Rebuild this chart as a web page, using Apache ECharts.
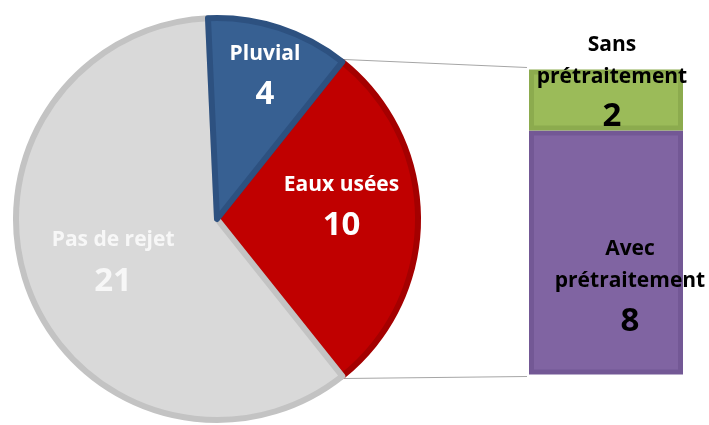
<!DOCTYPE html>
<html>
<head>
<meta charset="utf-8">
<script src="https://cdn.jsdelivr.net/npm/echarts@6/dist/echarts.min.js"></script>
<style>
  html, body { margin: 0; padding: 0; background: #ffffff; }
  #chart { width: 709px; height: 425px; }
</style>
</head>
<body>
<div id="chart"></div>
<script>
// Répartition des rejets (camembert) et détail des eaux usées (barre empilée)
const pieNames = ['Eaux usées', 'Pas de rejet', 'Pluvial'];
const pieValues = [10, 21, 4];
const barNames = ['Sans prétraitement', 'Avec prétraitement'];
const barValues = [2, 8];

const FONT = '"Open Sans", Lato, sans-serif';
const pieCenter = [217, 219];
const pieRadius = 201;
const pieBorder = 6;

const pieStyle = {
  'Eaux usées': { color: '#c00000', border: '#a40000', offset: [21, -9] },
  'Pas de rejet': { color: '#d9d9d9', border: '#c3c3c3', offset: [-7, 10], text: '#f7f7f7' },
  'Pluvial': { color: '#376092', border: '#2d5180', offset: [16, -42] }
};
const barStyle = {
  'Sans prétraitement': { color: '#9bbb59', border: '#8cab4e', offset: [6, -15] },
  'Avec prétraitement': { color: '#8064a2', border: '#735895', offset: [24, 37] }
};

// The highlighted slice (first item) is centred on the 3 o'clock direction
const total = pieValues.reduce((a, b) => a + b, 0);
const halfAngle = 180 * pieValues[0] / total;

const pieData = pieNames.map((name, i) => ({
  name: name,
  value: pieValues[i],
  itemStyle: { color: pieStyle[name].color, borderColor: pieStyle[name].border, borderWidth: pieBorder },
  label: { offset: pieStyle[name].offset, color: pieStyle[name].text || '#ffffff' }
}));

const barTotal = barValues.reduce((a, b) => a + b, 0);
const barSeries = barNames.slice().reverse().map(name => {
  const idx = barNames.indexOf(name);
  const s = barStyle[name];
  const label = name.replace(' ', '\n');
  return {
    type: 'bar',
    name: name,
    stack: 'detail',
    barWidth: '100%',
    data: [barValues[idx]],
    itemStyle: { color: s.color, borderColor: s.border, borderWidth: 5 },
    label: {
      show: true,
      position: 'inside',
      offset: s.offset,
      formatter: () => '{n|' + label + '}\n{v|' + barValues[idx] + '}',
      rich: {
        n: { fontFamily: FONT, fontWeight: 'bold', fontSize: 21, lineHeight: 32, color: '#000000', align: 'center' },
        v: { fontFamily: FONT, fontWeight: 'bold', fontSize: 33, lineHeight: 48, color: '#000000', align: 'center' }
      }
    },
    emphasis: { disabled: true }
  };
});

const gridLeft = 529;
const gridWidth = 154;
const gridTop = 69.5;
const gridHeight = 305;

const chart = echarts.init(document.getElementById('chart'), null, { renderer: 'canvas' });
chart.setOption({
  backgroundColor: '#ffffff',
  animation: false,
  grid: { left: gridLeft, top: gridTop, width: gridWidth, height: gridHeight },
  xAxis: { type: 'category', data: ['Eaux usées'], show: false },
  yAxis: { type: 'value', min: 0, max: barTotal, show: false },
  series: [
    {
      type: 'pie',
      center: pieCenter,
      radius: pieRadius,
      startAngle: halfAngle,
      clockwise: true,
      data: pieData,
      label: {
        show: true,
        position: 'inside',
        formatter: '{n|{b}}\n{v|{c}}',
        rich: {
          n: { fontFamily: FONT, fontWeight: 'bold', fontSize: 21, lineHeight: 32, align: 'center' },
          v: { fontFamily: FONT, fontWeight: 'bold', fontSize: 33, lineHeight: 50, align: 'center' }
        }
      },
      labelLine: { show: false },
      emphasis: { disabled: true }
    },
    ...barSeries
  ]
});

// Connector lines from the edges of the highlighted slice to the bar corners
const outerR = pieRadius + pieBorder / 2;
const rad = halfAngle * Math.PI / 180;
const pTop = [pieCenter[0] + outerR * Math.cos(rad), pieCenter[1] - outerR * Math.sin(rad)];
const pBot = [pieCenter[0] + outerR * Math.cos(rad), pieCenter[1] + outerR * Math.sin(rad)];
const yTop = chart.convertToPixel({ yAxisIndex: 0 }, barTotal) - 2;
const yBot = chart.convertToPixel({ yAxisIndex: 0 }, 0) + 2;
const xBar = gridLeft - 2;
chart.setOption({
  graphic: [
    { type: 'line', z: -1, shape: { x1: pTop[0], y1: pTop[1], x2: xBar, y2: yTop }, style: { stroke: '#a6a6a6', lineWidth: 1.2 } },
    { type: 'line', z: -1, shape: { x1: pBot[0], y1: pBot[1], x2: xBar, y2: yBot }, style: { stroke: '#a6a6a6', lineWidth: 1.2 } }
  ]
});
</script>
</body>
</html>
